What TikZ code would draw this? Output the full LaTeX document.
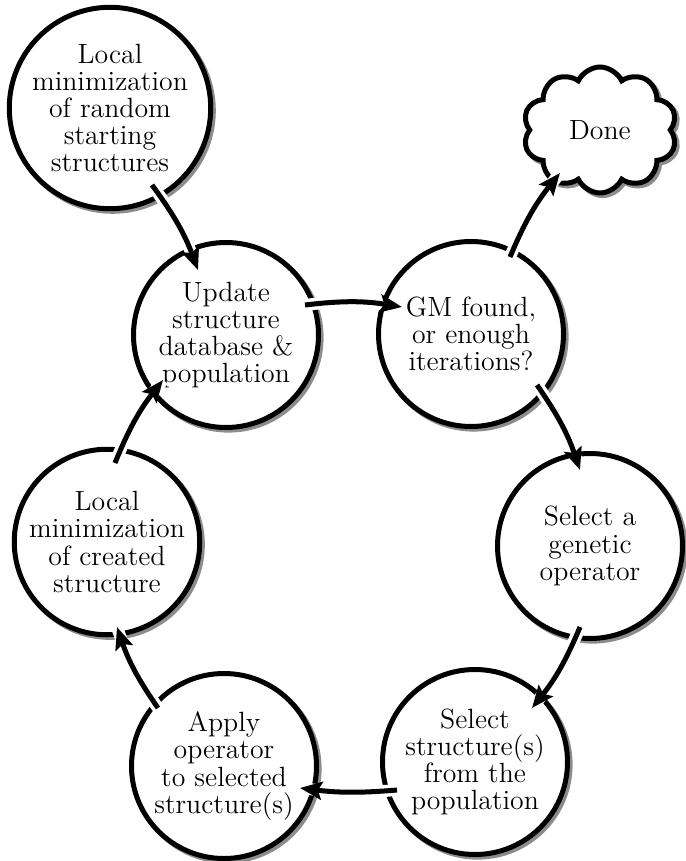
\documentclass[tikz,border=0pt]{standalone}
\usetikzlibrary{shapes.symbols,shadows,arrows.meta,calc}
\begin{document}
\begin{tikzpicture}[x=0.5pt,y=-0.5pt,
  stage/.style={circle, draw, line width=2.5pt, fill=white, minimum size=92.5pt, inner sep=0pt,
    align=center, font=\fontsize{13.9}{13.6}\selectfont,
    drop shadow={shadow xshift=1.3pt, shadow yshift=-1.3pt, draw=black!45, fill=black!45, line width=2.5pt, opacity=1}},
  donecloud/.style={cloud, cloud puffs=10, cloud puff arc=130, aspect=1.25, draw, line width=2.5pt, fill=white,
    minimum width=77pt, minimum height=63pt, inner sep=0pt, font=\fontsize{13.9}{13.6}\selectfont,
    drop shadow={shadow xshift=1.3pt, shadow yshift=-1.3pt, draw=black!45, fill=black!45, line width=2.5pt, opacity=1}},
  flow/.style={line width=2.5pt, -{Stealth[length=11pt,width=9pt,inset=2pt]},
    preaction={draw=white, line width=6pt, -}}
]
\useasboundingbox (0,0) rectangle (685,861);
\node[stage] (c1) at (110,108) {Local\\minimization\\of random\\starting\\structures};
\node[stage] (upd) at (226,335) {Update\\structure\\database \&\\population};
\node[stage] (gm) at (471,334) {GM found,\\or enough\\iterations?};
\node[stage] (sga) at (590,546) {Select a\\genetic\\operator};
\node[stage] (ssp) at (475,762) {Select\\structure(s)\\from the\\population};
\node[stage] (app) at (224,766) {Apply\\operator\\to selected\\structure(s)};
\node[stage] (lmc) at (107,542) {Local\\minimization\\of created\\structure};
\node[donecloud] (done) at (600,130) {Done};

\draw[flow] ($(c1)+(42,77)$) to[bend left=8] ($(upd)+(-28,-65)$);
\draw[flow] ($(upd)+(79,-30)$) to[bend left=8] ($(gm)+(-69,-27)$);
\draw[flow] ($(gm)+(39,-77)$) to[bend left=8] ($(done)+(-40,43)$);
\draw[flow] ($(gm)+(66,51)$) to[bend left=8] ($(sga)+(-10,-76)$);
\draw[flow] ($(sga)+(-10,81)$) to[bend left=8] ($(ssp)+(57,-54)$);
\draw[flow] ($(ssp)+(-78,28)$) to[bend left=6] ($(app)+(76,22)$);
\draw[flow] ($(app)+(-66,-58)$) to[bend left=8] ($(lmc)+(10,85)$);
\draw[flow] ($(lmc)+(8,-79)$) to[bend left=8] ($(upd)+(-63,45)$);
\end{tikzpicture}
\end{document}
